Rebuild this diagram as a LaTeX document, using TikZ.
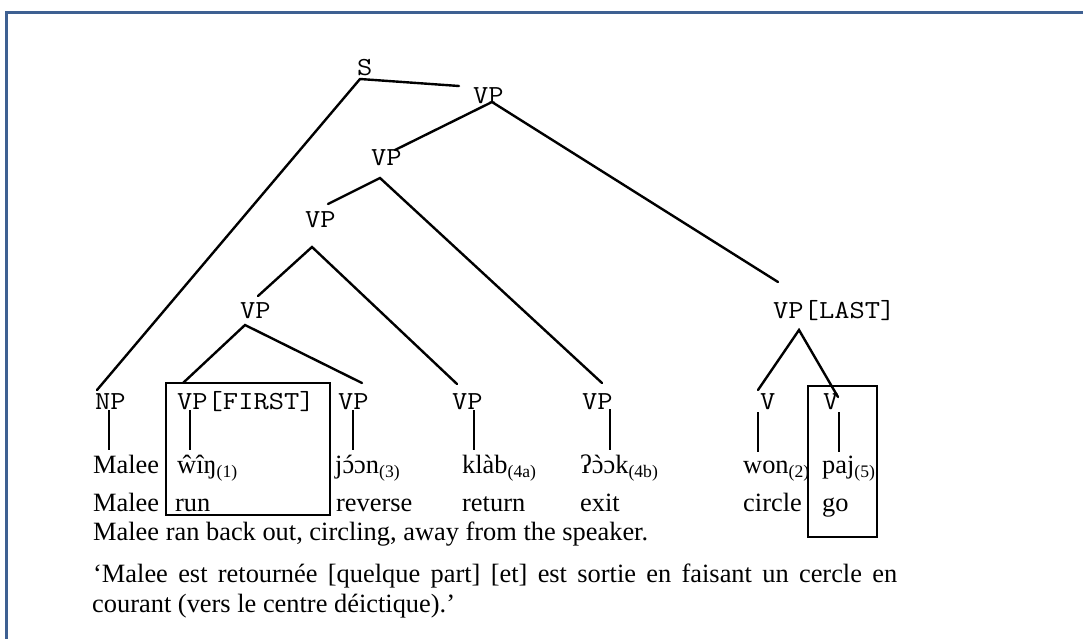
\documentclass[tikz,border=0pt]{standalone}
\usepackage{fontspec}
\setmainfont{Liberation Serif}
\definecolor{frameblue}{RGB}{62,96,146}
\tikzset{
  lbl/.style={font=\ttfamily\fontsize{26}{30}\selectfont, inner sep=0pt, anchor=base west},
  wrd/.style={font=\fontsize{26.4}{30}\selectfont, inner sep=0pt, anchor=base west},
  branch/.style={line width=2.4pt, line cap=round},
  stem/.style={line width=1.1pt},
  hbox/.style={draw, line width=2pt},
  frame/.style={draw=frameblue, line width=3pt},
}
\newcommand\ml[1]{\scalebox{1.14}[1]{#1}}
\newcommand\lsub[1]{\raisebox{-4pt}{\fontsize{17.6}{20}\selectfont(#1)}}
\newcommand\acu[1]{\ooalign{#1\cr\hidewidth\kern1pt ´\hidewidth\cr}}
\newcommand\grv[1]{\ooalign{#1\cr\hidewidth\reflectbox{´}\hidewidth\cr}}
\begin{document}
\begin{tikzpicture}[x=1pt,y=-1pt]
\useasboundingbox (0,0) rectangle (1083,639);
% frame
\coordinate (f1) at (6,639);
\coordinate (f2) at (6,13);
\coordinate (f3) at (1083,13);
\draw[frame] (f1) -- (f2) -- (f3);

% tree labels
\node[lbl] (S) at (357,76) {\ml{S}};
\node[lbl] (vp1) at (473,104) {\ml{VP}};
\node[lbl] (vp2) at (371,166) {\ml{VP}};
\node[lbl] (vp3) at (305,227) {\ml{VP}};
\node[lbl] (vp4) at (240,318) {\ml{VP}};
\node[lbl] (vplast) at (773,318) {\ml{VP[LAST]}};
\node[lbl] (np) at (95,409) {\ml{NP}};
\node[lbl] (vpfirst) at (177,409) {\ml{VP[FIRST]}};
\node[lbl] (vpc) at (338,409) {\ml{VP}};
\node[lbl] (vpd) at (452,409) {\ml{VP}};
\node[lbl] (vpe) at (582,409) {\ml{VP}};
\node[lbl] (vf) at (760,409) {\ml{V}};
\node[lbl] (vg) at (823,409) {\ml{V}};

% branch end points
\coordinate (s-b) at (360,79);
\coordinate (np-t) at (97,390);
\coordinate (vp1-l) at (459,86);
\coordinate (vp1-b) at (492,102);
\coordinate (vp2-t) at (395,150);
\coordinate (vplast-t) at (778,282);
\coordinate (vp2-b) at (380,178);
\coordinate (vp3-t) at (328,204);
\coordinate (vpe-t) at (602,383);
\coordinate (vp3-b) at (312,247);
\coordinate (vp4-t) at (258,296);
\coordinate (vpd-t) at (457,384);
\coordinate (vp4-b) at (245,325);
\coordinate (vpfirst-t) at (183,383);
\coordinate (vpc-t) at (362,383);
\coordinate (vplast-b) at (799,330);
\coordinate (vf-t) at (758,390);
\coordinate (vg-t) at (838,397);

\draw[branch] (np-t) -- (s-b) -- (vp1-l);
\draw[branch] (vp2-t) -- (vp1-b) -- (vplast-t);
\draw[branch] (vp3-t) -- (vp2-b) -- (vpe-t);
\draw[branch] (vp4-t) -- (vp3-b) -- (vpd-t);
\draw[branch] (vpfirst-t) -- (vp4-b) -- (vpc-t);
\draw[branch] (vf-t) -- (vplast-b) -- (vg-t);

% words
\node[wrd] (w1) at (93,473) {Malee};
\node[wrd] (w2) at (177,473) {ŵîŋ\lsub{1}};
\node[wrd] (w3) at (335,473) {j\acu{ɔ}ɔn\lsub{3}};
\node[wrd] (w4) at (462,473) {klàb\lsub{4a}};
\node[wrd] (w5) at (580,473) {ʔ\grv{ɔ}ɔk\lsub{4b}};
\node[wrd] (w6) at (743,473) {won\lsub{2}};
\node[wrd] (w7) at (822,473) {paj\lsub{5}};

\node[wrd] (g1) at (93,511) {Malee};
\node[wrd] (g2) at (175,511) {run};
\node[wrd] (g3) at (336,511) {reverse};
\node[wrd] (g4) at (462,511) {return};
\node[wrd] (g5) at (580,511) {exit};
\node[wrd] (g6) at (743,511) {circle};
\node[wrd] (g7) at (822,511) {go};

% stems
\coordinate (np-s) at (109,410);   \coordinate (w1-s) at (109,450);
\coordinate (vpfirst-s) at (190,410); \coordinate (w2-s) at (190,450);
\coordinate (vpc-s) at (353,410);  \coordinate (w3-s) at (353,450);
\coordinate (vpd-s) at (474,410);  \coordinate (w4-s) at (474,450);
\coordinate (vpe-s) at (610,409);  \coordinate (w5-s) at (610,450);
\coordinate (vf-s) at (758,412);   \coordinate (w6-s) at (758,452);
\coordinate (vg-s) at (839,412);   \coordinate (w7-s) at (839,452);
\draw[stem] (np-s) -- (w1-s);
\draw[stem] (vpfirst-s) -- (w2-s);
\draw[stem] (vpc-s) -- (w3-s);
\draw[stem] (vpd-s) -- (w4-s);
\draw[stem] (vpe-s) -- (w5-s);
\draw[stem] (vf-s) -- (w6-s);
\draw[stem] (vg-s) -- (w7-s);

% boxes
\draw[hbox] (166,383) rectangle (330,515);
\draw[hbox] (808,386) rectangle (877,537);

% translations
\node[wrd] (tr) at (93,540) {Malee ran back out, circling, away from the speaker.};
\node[wrd] (fr1) at (93,582) {\makebox[804pt][s]{‘Malee est retournée [quelque part] [et] est sortie en faisant un cercle en}};
\node[wrd] (fr2) at (92,612) {courant (vers le centre déictique).’};
\end{tikzpicture}
\end{document}
